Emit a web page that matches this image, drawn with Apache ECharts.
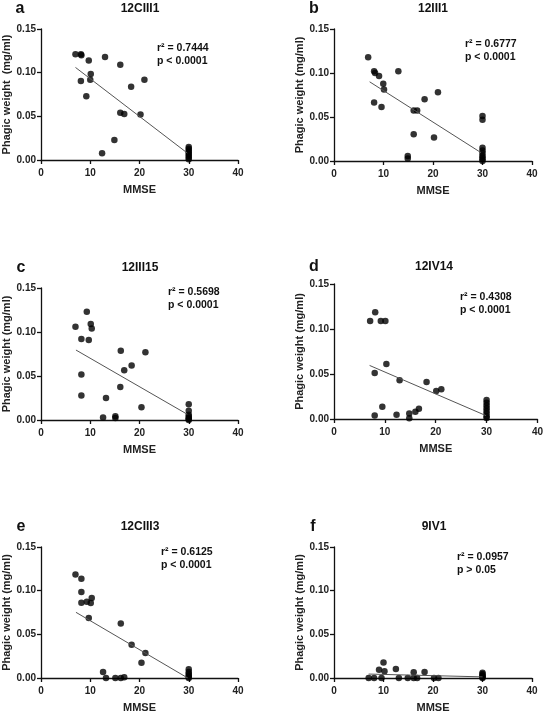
<!DOCTYPE html>
<html>
<head>
<meta charset="utf-8">
<script src="https://cdn.jsdelivr.net/npm/echarts@6/dist/echarts.min.js"></script>
<style>html,body{margin:0;padding:0;background:#fff;}#c{width:546px;height:714px;}</style>
</head>
<body>
<div id="c"></div>
<script>
// ---- data ----
const xTicks = [0, 10, 20, 30, 40];
const yTicks = [0.00, 0.05, 0.10, 0.15];

const panelLetters = ['a', 'b', 'c', 'd', 'e', 'f'];
const panelTitles = ['12CIII1', '12III1', '12III15', '12IV14', '12CIII3', '9IV1'];
const rSquared = ['r\u00b2 = 0.7444', 'r\u00b2 = 0.6777', 'r\u00b2 = 0.5698', 'r\u00b2 = 0.4308', 'r\u00b2 = 0.6125', 'r\u00b2 = 0.0957'];
const pValues = ['p < 0.0001', 'p < 0.0001', 'p < 0.0001', 'p < 0.0001', 'p < 0.0001', 'p > 0.05'];
const yNames = ['Phagic weight  (mg/ml)', 'Phagic weight (mg/ml)', 'Phagic weight (mg/ml)', 'Phagic weight (mg/ml)', 'Phagic weight (mg/ml)', 'Phagic weight (mg/ml)'];

const aMmse = [7, 8.1, 8.2, 9.7, 13, 16.1, 10.1, 10, 8.1, 21, 18.3, 9.2, 16.1, 16.9, 20.2, 14.9, 12.4, 30, 30, 30, 30, 30, 30, 30, 30];
const aWeight = [0.121, 0.121, 0.120, 0.114, 0.118, 0.109, 0.0985, 0.092, 0.0905, 0.092, 0.084, 0.073, 0.054, 0.0527, 0.052, 0.023, 0.0076, 0.015, 0.013, 0.011, 0.009, 0.007, 0.005, 0.003, 0.001];
const aFit = [[7, 0.106], [29.7, 0.008]];

const bMmse = [6.9, 8.1, 8.3, 9.1, 13, 9.95, 10.1, 8.1, 9.6, 21, 18.3, 16.1, 16.8, 16.1, 20.2, 14.9, 14.9, 30, 30, 30, 30, 30, 30, 30, 30, 30];
const bWeight = [0.118, 0.102, 0.100, 0.0965, 0.102, 0.0877, 0.0813, 0.0665, 0.0615, 0.078, 0.0703, 0.0573, 0.0573, 0.0304, 0.0266, 0.0057, 0.0027, 0.051, 0.047, 0.015, 0.012, 0.009, 0.006, 0.004, 0.002, 0];
const bFit = [[7.2, 0.090], [29.7, 0.0095]];

const cMmse = [7, 9.3, 10.1, 10.3, 8.2, 9.7, 16.2, 21.2, 18.4, 16.9, 8.2, 16.1, 8.2, 13.2, 20.4, 12.6, 15.1, 15.1, 30, 30, 30, 30, 30, 30, 30];
const cWeight = [0.106, 0.123, 0.109, 0.104, 0.092, 0.091, 0.0786, 0.0771, 0.0619, 0.0566, 0.0517, 0.0376, 0.0277, 0.0251, 0.0144, 0.0027, 0.0042, 0.0023, 0.018, 0.0105, 0.006, 0.004, 0.002, 0.001, 0];
const cFit = [[7.1, 0.0795], [29.7, 0.0065]];

const dMmse = [7.1, 8.1, 9.2, 10.1, 10.3, 8.0, 12.9, 18.2, 20.1, 21.1, 9.5, 8.0, 12.3, 14.8, 14.8, 16.0, 16.7, 30, 30, 30, 30, 30, 30, 30, 30];
const dWeight = [0.109, 0.1185, 0.109, 0.109, 0.061, 0.051, 0.043, 0.041, 0.031, 0.033, 0.0137, 0.004, 0.0046, 0.006, 0.0008, 0.008, 0.0115, 0.021, 0.018, 0.015, 0.012, 0.009, 0.006, 0.003, 0.001];
const dFit = [[7, 0.0595], [29.9, 0.0037]];

const eMmse = [7, 8.2, 8.2, 8.2, 9.3, 10.1, 10.3, 9.7, 16.2, 18.4, 21.2, 20.4, 12.6, 13.2, 15.1, 16.2, 16.9, 30, 30, 30, 30, 30, 30];
const eWeight = [0.1185, 0.1136, 0.0984, 0.0862, 0.0874, 0.0858, 0.0915, 0.0687, 0.0623, 0.038, 0.0285, 0.0175, 0.0068, 0, 0, 0, 0.0008, 0.010, 0.007, 0.005, 0.003, 0.0015, 0];
const eFit = [[7.1, 0.0752], [29.8, 0]];

const fMmse = [7, 8.1, 9.1, 10, 10.2, 9.6, 12.5, 13.1, 14.9, 16.1, 16.1, 16.8, 18.3, 20.2, 21.1, 30, 30, 30, 30, 30, 30];
const fWeight = [0, 0, 0.0095, 0.0178, 0.0076, 0, 0.0103, 0, 0, 0.0065, 0, 0, 0.0068, 0, 0, 0.006, 0.0045, 0.003, 0.002, 0.001, 0];
const fFit = [[7, 0.0045], [30, 0.0013]];

const allMmse = [aMmse, bMmse, cMmse, dMmse, eMmse, fMmse];
const allWeight = [aWeight, bWeight, cWeight, dWeight, eWeight, fWeight];
const allFit = [aFit, bFit, cFit, dFit, eFit, fFit];

// ---- layout ----
const FONT = '"Liberation Sans", Arial, sans-serif';
const grids = [
  {left: 41, top: 29, width: 197, height: 131},
  {left: 334, top: 29, width: 198, height: 132},
  {left: 41, top: 288, width: 197, height: 132},
  {left: 334, top: 284, width: 205, height: 135},
  {left: 41, top: 547, width: 197, height: 132},
  {left: 334, top: 547, width: 198, height: 132}
];
const letterPos = [[20, 9], [314, 9], [21, 268], [314, 267], [21, 527], [313, 527]];
const titlePos = [[140, 9], [433, 9], [140, 268], [434, 267], [140, 527], [434, 527]];
const annPos = [[157, 48], [465, 44], [168, 292], [460, 297], [161, 552], [457, 557]];

const xAxes = [], yAxes = [], series = [], graphics = [];
for (let i = 0; i < 6; i++) {
  xAxes.push({
    gridIndex: i, type: 'value', min: xTicks[0], max: xTicks[xTicks.length - 1], interval: 10,
    name: 'MMSE', nameLocation: 'middle', nameGap: 24,
    nameTextStyle: {fontFamily: FONT, fontWeight: 'bold', fontSize: 11, color: '#222'},
    axisLine: {show: true, lineStyle: {color: '#111', width: 1.3}},
    axisTick: {show: true, length: 4, lineStyle: {color: '#111', width: 1.3}},
    axisLabel: {fontFamily: FONT, fontWeight: 'bold', fontSize: 10, color: '#222', margin: 8},
    splitLine: {show: false}
  });
  yAxes.push({
    gridIndex: i, type: 'value', min: yTicks[0], max: yTicks[yTicks.length - 1], interval: 0.05,
    name: yNames[i], nameLocation: 'middle', nameGap: 28,
    nameTextStyle: {fontFamily: FONT, fontWeight: 'bold', fontSize: 11, color: '#222'},
    axisLine: {show: true, lineStyle: {color: '#111', width: 1.3}},
    axisTick: {show: true, length: 4, lineStyle: {color: '#111', width: 1.3}},
    axisLabel: {fontFamily: FONT, fontWeight: 'bold', fontSize: 10, color: '#222', margin: 5,
      formatter: v => v.toFixed(2)},
    splitLine: {show: false}
  });
  series.push({
    type: 'scatter', xAxisIndex: i, yAxisIndex: i, clip: false,
    symbol: 'circle', symbolSize: 6.5,
    itemStyle: {color: '#000'},
    data: allMmse[i].map((x, k) => [x, allWeight[i][k]]),
    z: 3
  });
  series.push({
    type: 'line', xAxisIndex: i, yAxisIndex: i, symbol: 'none',
    lineStyle: {color: '#555', width: 1},
    data: allFit[i], z: 4, silent: true
  });
  graphics.push({type: 'text', x: letterPos[i][0], y: letterPos[i][1],
    style: {text: panelLetters[i], font: 'bold 16px ' + FONT, fill: '#111', align: 'center', verticalAlign: 'middle'}});
  graphics.push({type: 'text', x: titlePos[i][0], y: titlePos[i][1],
    style: {text: panelTitles[i], font: 'bold 12px ' + FONT, fill: '#111', align: 'center', verticalAlign: 'middle'}});
  graphics.push({type: 'text', x: annPos[i][0], y: annPos[i][1],
    style: {text: rSquared[i], font: 'bold 10.5px ' + FONT, fill: '#111', align: 'left', verticalAlign: 'middle'}});
  graphics.push({type: 'text', x: annPos[i][0], y: annPos[i][1] + 13,
    style: {text: pValues[i], font: 'bold 10.5px ' + FONT, fill: '#111', align: 'left', verticalAlign: 'middle'}});
}

const chart = echarts.init(document.getElementById('c'), null, {renderer: 'canvas'});
chart.setOption({
  animation: false,
  backgroundColor: '#fff',
  grid: grids,
  xAxis: xAxes,
  yAxis: yAxes,
  series: series,
  graphic: graphics
});
</script>
</body>
</html>
